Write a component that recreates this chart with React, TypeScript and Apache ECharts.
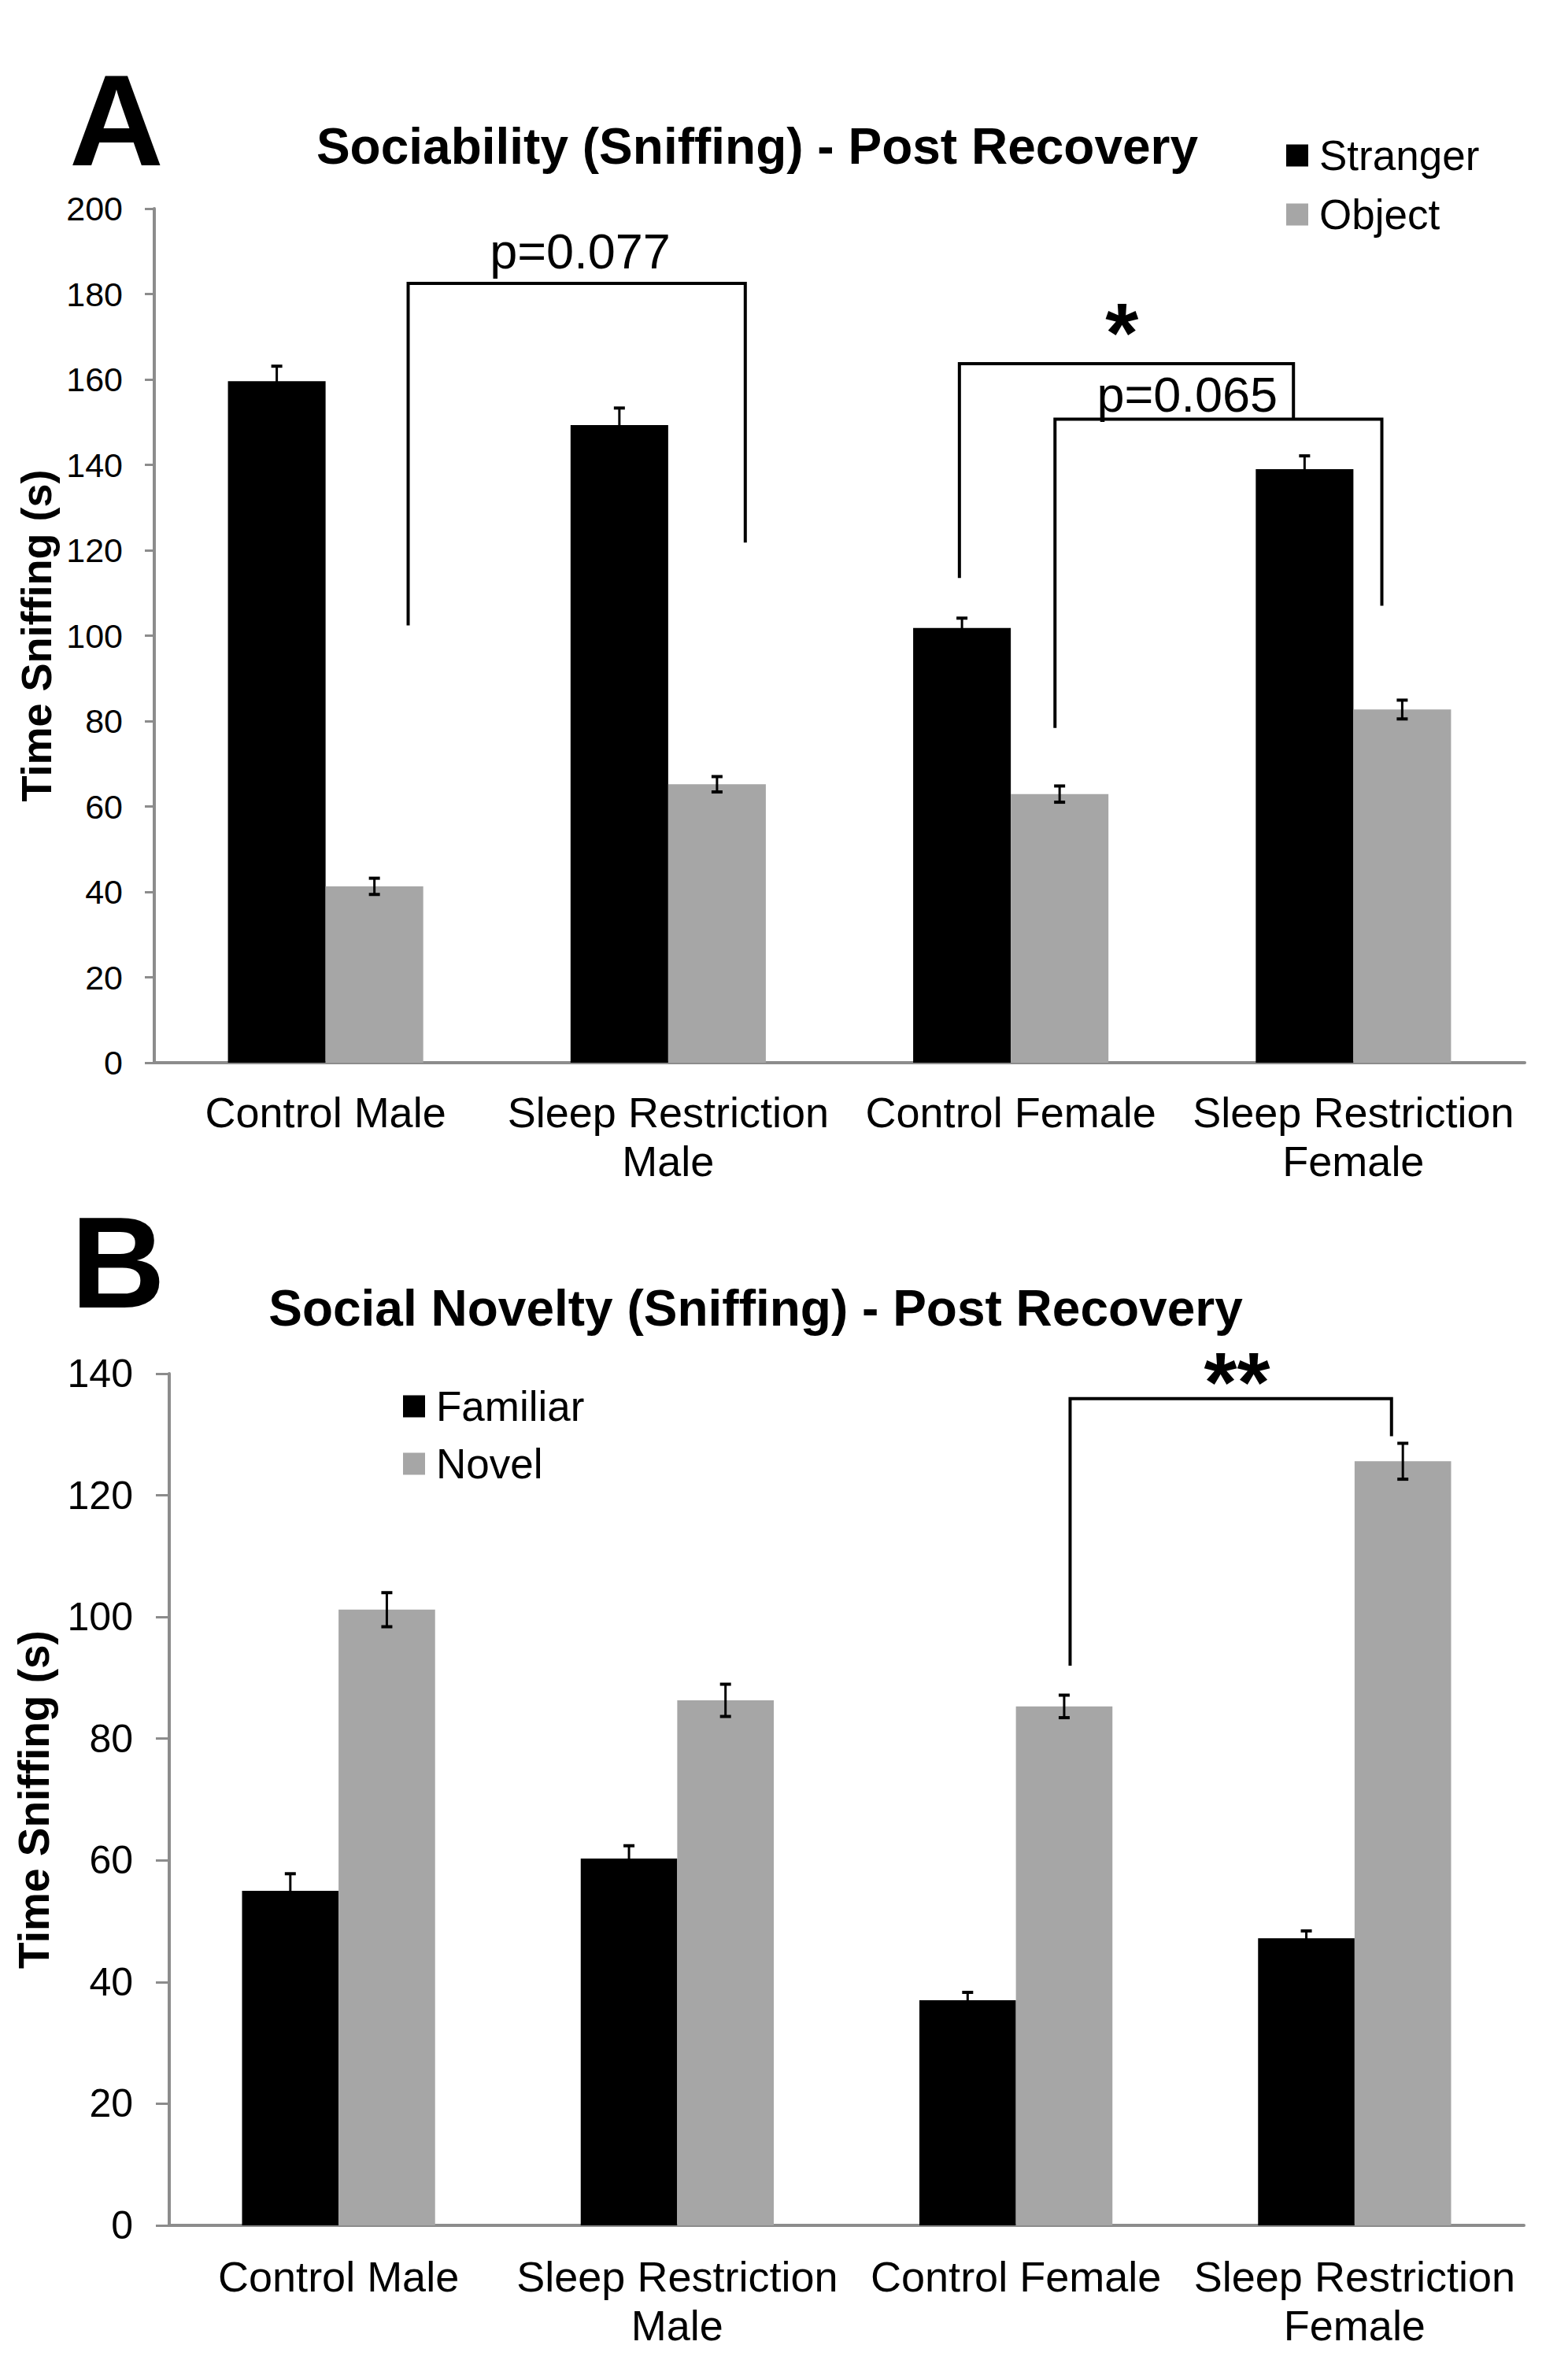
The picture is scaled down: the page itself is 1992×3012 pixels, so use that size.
import React, { useEffect, useRef } from "react";
import * as echarts from "echarts";

const FONT = '"Liberation Sans", Arial, Helvetica, sans-serif';

const categories = [
  "Control Male",
  "Sleep Restriction\nMale",
  "Control Female",
  "Sleep Restriction\nFemale",
];

// Panel A – Sociability
const strangerMean = [159.6, 149.3, 101.8, 139.0];
const strangerSem = [3.5, 4.0, 2.3, 3.1];
const objectMean = [41.3, 65.2, 62.9, 82.7];
const objectSem = [1.9, 1.8, 1.9, 2.2];

// Panel B – Social novelty
const familiarMean = [55.0, 60.3, 37.0, 47.2];
const familiarSem = [2.8, 2.1, 1.3, 1.2];
const novelMean = [101.2, 86.3, 85.3, 125.6];
const novelSem = [2.8, 2.65, 1.85, 2.95];

// Significance brackets: [x0, x1, top, leftEnd, rightEnd, labelX, labelY] (x in category units)
const bracketsA = [
  [0.241, 1.225, 182.5, 102.4, 121.8, 0.743, 190.0],
  [1.85, 2.825, 163.7, 113.5, 150.4, 2.324, 171.0],
  [2.129, 3.083, 150.7, 78.4, 107.0, 2.515, 156.5],
];
const bracketLabelsA = ["p=0.077", "*", "p=0.065"];
const bracketsB = [[2.16, 3.109, 135.9, 92.0, 129.7, 2.653, 138.6]];
const bracketLabelsB = ["**"];

const AXIS_GRAY = "#8c8c8c";
const BAR_GRAY = "#a6a6a6";
const BAR_OFFSET = 0.1425; // half of one bar width in category units

function errorBars(xAxisIndex: number, yAxisIndex: number, means: number[], sems: number[], offset: number) {
  return {
    type: "custom",
    xAxisIndex,
    yAxisIndex,
    z: 5,
    silent: true,
    data: means.map((m, i) => [i + offset, m, sems[i]]),
    renderItem: (_params: any, api: any) => {
      const x = api.value(0);
      const m = api.value(1);
      const e = api.value(2);
      const hi = api.coord([x, m + e]);
      const lo = api.coord([x, m - e]);
      const cap = 7;
      return {
        type: "group",
        children: [
          { type: "line", shape: { x1: hi[0], y1: hi[1], x2: lo[0], y2: lo[1] }, style: { stroke: "#000", lineWidth: 3 } },
          { type: "line", shape: { x1: hi[0] - cap, y1: hi[1], x2: hi[0] + cap, y2: hi[1] }, style: { stroke: "#000", lineWidth: 4 } },
          { type: "line", shape: { x1: lo[0] - cap, y1: lo[1], x2: lo[0] + cap, y2: lo[1] }, style: { stroke: "#000", lineWidth: 4 } },
        ],
      };
    },
  };
}

function brackets(xAxisIndex: number, yAxisIndex: number, data: number[][], labels: string[]) {
  return {
    type: "custom",
    xAxisIndex,
    yAxisIndex,
    z: 6,
    silent: true,
    data,
    renderItem: (params: any, api: any) => {
      const x0 = api.value(0);
      const x1 = api.value(1);
      const top = api.value(2);
      const l = api.value(3);
      const r = api.value(4);
      const lx = api.value(5);
      const ly = api.value(6);
      const a = api.coord([x0, l]);
      const b = api.coord([x0, top]);
      const c = api.coord([x1, top]);
      const d = api.coord([x1, r]);
      const t = api.coord([lx, ly]);
      const label = labels[params.dataIndex];
      const star = label.startsWith("*");
      return {
        type: "group",
        children: [
          {
            type: "polyline",
            shape: { points: [a, b, c, d] },
            style: { stroke: "#000", lineWidth: 4, fill: "none" },
          },
          {
            type: "text",
            style: {
              text: label,
              x: t[0],
              y: t[1],
              fill: "#000",
              fontFamily: FONT,
              fontSize: star ? 108 : 63,
              lineHeight: star ? 70 : 63,
              fontWeight: star ? "bold" : "normal",
              align: "center",
              verticalAlign: "middle",
            },
          },
        ],
      };
    },
  };
}

function yAxisCfg(gridIndex: number, max: number, fontSize: number, margin: number, tickLen: number, nameGap: number, nameSize: number) {
  return {
    type: "value",
    gridIndex,
    min: 0,
    max,
    interval: 20,
    axisLine: { show: true, onZero: false, lineStyle: { color: AXIS_GRAY, width: 4 } },
    axisTick: { show: true, length: tickLen, lineStyle: { color: AXIS_GRAY, width: 3 } },
    splitLine: { show: false },
    axisLabel: { fontSize, color: "#000", margin, fontFamily: FONT },
    name: "Time Sniffing (s)",
    nameLocation: "middle",
    nameRotate: 90,
    nameGap,
    nameTextStyle: { fontSize: nameSize, fontWeight: "bold", fontFamily: FONT, color: "#000" },
  };
}

function catAxisCfg(gridIndex: number, margin: number) {
  return {
    type: "category",
    gridIndex,
    data: categories,
    axisLine: { show: true, onZero: false, lineStyle: { color: AXIS_GRAY, width: 4 } },
    axisTick: { show: false },
    axisLabel: { interval: 0, fontSize: 54, lineHeight: 62, color: "#000", margin, fontFamily: FONT },
  };
}

function legendCfg(left: number, top: number, gap: number, data: string[]) {
  return {
    orient: "vertical",
    left,
    top,
    padding: 0,
    itemWidth: 28,
    itemHeight: 28,
    itemGap: gap,
    icon: "rect",
    selectedMode: false,
    textStyle: { fontSize: 53, lineHeight: 53, color: "#000", fontFamily: FONT, padding: [0, 0, 0, 9] },
    data,
  };
}

export default function App() {
  const ref = useRef<HTMLDivElement>(null);
  useEffect(() => {
    if (!ref.current) return;
    const chart = echarts.init(ref.current, null, { renderer: "svg" });
    const bar = (name: string, xi: number, yi: number, data: number[], color: string) => ({
      name,
      type: "bar",
      xAxisIndex: xi,
      yAxisIndex: yi,
      data,
      barGap: "0%",
      barCategoryGap: "43%",
      itemStyle: { color },
      z: 2,
    });
    chart.setOption({
      animation: false,
      backgroundColor: "#fff",
      title: [
        {
          text: "Sociability (Sniffing) - Post Recovery",
          left: 962,
          top: 154,
          padding: 0,
          textAlign: "center",
          textStyle: { fontSize: 64, fontWeight: "bold", fontFamily: FONT, color: "#000" },
        },
        {
          text: "Social Novelty (Sniffing) - Post Recovery",
          left: 960,
          top: 1630,
          padding: 0,
          textAlign: "center",
          textStyle: { fontSize: 64, fontWeight: "bold", fontFamily: FONT, color: "#000" },
        },
      ],
      graphic: [
        {
          type: "text",
          x: 148,
          y: 152,
          style: { text: "A", fontFamily: FONT, fontSize: 166, fontWeight: "bold", fill: "#000", align: "center", verticalAlign: "middle", textAlign: "center", textVerticalAlign: "middle" },
        },
        {
          type: "text",
          x: 150,
          y: 1603,
          style: { text: "B", fontFamily: FONT, fontSize: 166, fontWeight: "bold", fill: "#000", align: "center", verticalAlign: "middle", textAlign: "center", textVerticalAlign: "middle" },
        },
      ],
      legend: [
        legendCfg(1634, 171, 22, ["Stranger", "Object"]),
        legendCfg(512, 1760, 20, ["Familiar", "Novel"]),
      ],
      grid: [
        { left: 196, right: 55, top: 265, height: 1085 },
        { left: 215, right: 56, top: 1745, height: 1082 },
      ],
      xAxis: [
        catAxisCfg(0, 32),
        { type: "value", gridIndex: 0, min: -0.5, max: 3.5, show: false },
        catAxisCfg(1, 34),
        { type: "value", gridIndex: 1, min: -0.5, max: 3.5, show: false },
      ],
      yAxis: [yAxisCfg(0, 200, 43, 40, 12, 117, 54), yAxisCfg(1, 140, 50, 46, 17, 145, 55)],
      series: [
        bar("Stranger", 0, 0, strangerMean, "#000"),
        bar("Object", 0, 0, objectMean, BAR_GRAY),
        errorBars(1, 0, strangerMean, strangerSem, -BAR_OFFSET),
        errorBars(1, 0, objectMean, objectSem, BAR_OFFSET),
        brackets(1, 0, bracketsA, bracketLabelsA),
        bar("Familiar", 2, 1, familiarMean, "#000"),
        bar("Novel", 2, 1, novelMean, BAR_GRAY),
        errorBars(3, 1, familiarMean, familiarSem, -BAR_OFFSET),
        errorBars(3, 1, novelMean, novelSem, BAR_OFFSET),
        brackets(3, 1, bracketsB, bracketLabelsB),
      ],
    });
    return () => chart.dispose();
  }, []);
  return <div ref={ref} style={{ position: "absolute", left: 0, top: 0, width: 1992, height: 3012 }} />;
}
